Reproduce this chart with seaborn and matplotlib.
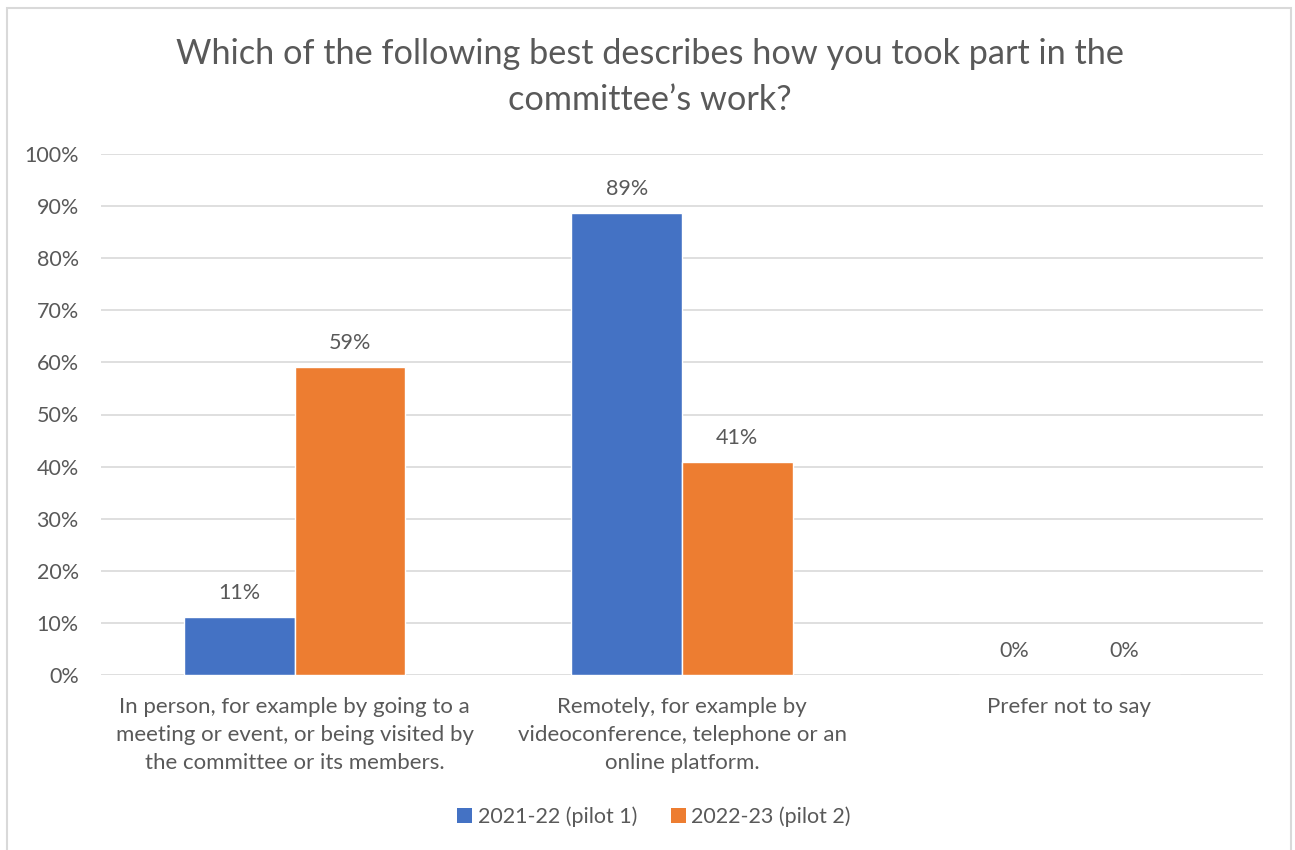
import matplotlib
matplotlib.use("Agg")
import matplotlib.pyplot as plt
from matplotlib.patches import Rectangle, Patch
import seaborn as sns
import pandas as pd

categories = [
    "In person, for example by going to a\nmeeting or event, or being visited by\nthe committee or its members.",
    "Remotely, for example by\nvideoconference, telephone or an\nonline platform.",
    "Prefer not to say",
]
series_names = ["2021-22 (pilot 1)", "2022-23 (pilot 2)"]
values_2021 = [0.111, 0.887, 0.0]
values_2022 = [0.591, 0.409, 0.0]
yticks = [0, 0.1, 0.2, 0.3, 0.4, 0.5, 0.6, 0.7, 0.8, 0.9, 1.0]
title = "Which of the following best describes how you took part in the\ncommittee\u2019s work?"

colors = ["#4472C4", "#ED7D31"]
text_color = "#595959"
grid_color = "#D9D9D9"

sns.set_theme(style="white")
plt.rcParams["font.family"] = ["Lato", "DejaVu Sans"]

df = pd.DataFrame({
    "category": categories * 2,
    "value": values_2021 + values_2022,
    "series": [series_names[0]] * 3 + [series_names[1]] * 3,
})

W, H = 1295, 850
fig = plt.figure(figsize=(W / 100, H / 100), dpi=100)
fig.patch.set_facecolor("white")

# outer chart frame
fig.patches.append(Rectangle((7 / W, -0.05), (1291 - 7) / W, 1.05 - 8 / H,
                             transform=fig.transFigure, fill=False,
                             edgecolor=grid_color, linewidth=1.5))

ax = fig.add_axes([101 / W, (H - 675) / H, (1263 - 101) / W, (675 - 154) / H])
sns.barplot(data=df, x="category", y="value", hue="series", palette=colors,
            width=0.5714, saturation=1, ax=ax, legend=False, zorder=3)

ax.set_ylim(0, 1.0)
ax.set_xlim(-0.5, 2.5)
ax.set_yticks(yticks)
ax.set_yticklabels([f"{int(round(t * 100))}%" for t in yticks])
ax.set_xlabel("")
ax.set_ylabel("")
ax.yaxis.grid(True, color=grid_color, linewidth=1.2, zorder=0)
ax.xaxis.grid(False)
for s in ax.spines.values():
    s.set_visible(False)
ax.tick_params(axis="y", length=0, pad=16, labelsize=15.5, labelcolor=text_color)
ax.tick_params(axis="x", length=0, pad=16, labelsize=16, labelcolor=text_color)
for lbl in ax.get_xticklabels():
    lbl.set_multialignment("center")
    lbl.set_linespacing(1.48)

for cont in ax.containers:
    labs = [f"{int(round(b.get_height() * 100))}%" for b in cont]
    ax.bar_label(cont, labels=labs, padding=10, fontsize=15.5, color=text_color)

fig.text(650 / W, 1 - 77 / H, title, ha="center", va="center", fontsize=24.7,
         color=text_color, linespacing=1.55)

handles = [Patch(facecolor=c, edgecolor="none") for c in colors]
fig.legend(handles, series_names, loc="center", bbox_to_anchor=(654 / W, 1 - 817 / H),
           ncol=2, frameon=False, fontsize=15.5, handlelength=0.7, handleheight=0.7,
           handletextpad=0.25, columnspacing=1.55, labelcolor=text_color)

fig.savefig("out.png", dpi=100, facecolor="white")
